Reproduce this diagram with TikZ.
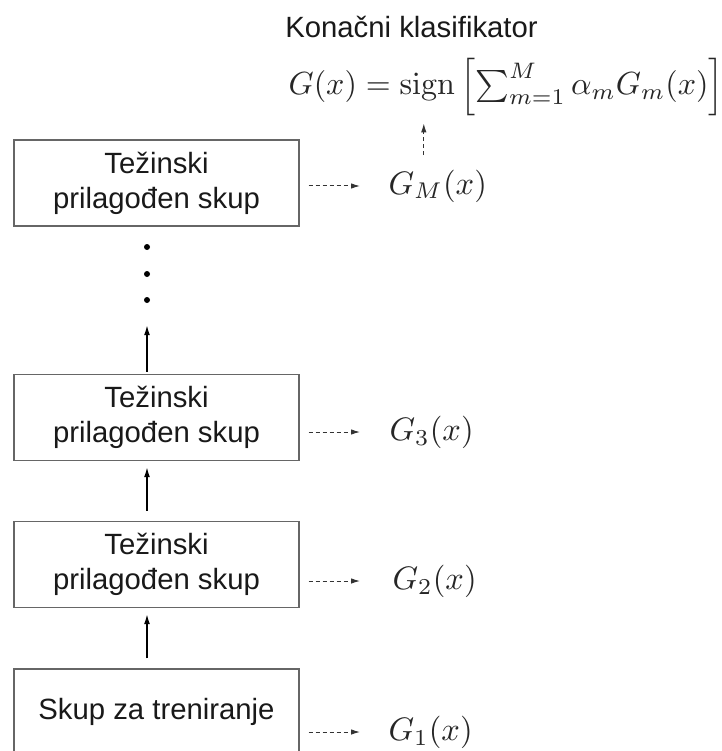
\documentclass[tikz,border=0pt]{standalone}
\usepackage{amsmath}
\usepackage[no-math]{fontspec}
\setmainfont{Liberation Sans}
\usetikzlibrary{arrows.meta}
\begin{document}
\begin{tikzpicture}[x=1pt,y=-1pt,
  box/.style={draw=black!60,line width=1.4pt,minimum width=285pt,minimum height=86pt,
    align=center,inner sep=0pt,font=\fontsize{29.3}{35}\selectfont,text=black!90},
  lbl/.style={anchor=west,inner sep=0pt,scale=3.25,text=black!85},
  solidarr/.style={line width=1.4pt,-{Latex[length=10pt,width=6pt]}},
  dasharr/.style={line width=1pt,draw=black!80,dash pattern=on 4pt off 3pt,-{Latex[length=9pt,width=5.5pt]}},
  dotn/.style={circle,fill=black,inner sep=0pt,minimum size=6pt}]
\useasboundingbox (0,0) rectangle (721,751);
\clip (0,0) rectangle (721,751);
% boxes
\node[box] (gmb) at (156.5,183) {Težinski\\prilagođen skup};
\node[box] (g3b) at (156.5,417.5) {Težinski\\prilagođen skup};
\node[box] (g2b) at (156.5,564.5) {Težinski\\prilagođen skup};
\node[box] (g1b) at (156.5,712) {Skup za treniranje};
% labels
\node[lbl] (gm) at (388,186) {$G_M(x)$};
\node[lbl] (g3) at (389,432) {$G_3(x)$};
\node[lbl] (g2) at (392,581) {$G_2(x)$};
\node[lbl] (g1) at (388,732) {$G_1(x)$};
% top
\node[anchor=center,inner sep=0pt,font=\fontsize{29.3}{35}\selectfont,text=black!90] (title) at (411.5,27) {Konačni klasifikator};
\node[lbl,scale=3.2/3.25] (formula) at (288,87)
  {$G(x) = \operatorname{sign}\left[\sum_{m=1}^{M} \alpha_m G_m(x)\right]$};
% dots
\node[dotn] (d1) at (147,247) {};
\node[dotn] (d2) at (147,274) {};
\node[dotn] (d3) at (147,300) {};
% vertical arrows
\draw[solidarr,shorten <=10pt,shorten >=6pt] ([xshift=-9.5pt]g1b.north) -- ([xshift=-9.5pt]g2b.south);
\draw[solidarr,shorten <=10pt,shorten >=6pt] ([xshift=-9.5pt]g2b.north) -- ([xshift=-9.5pt]g3b.south);
\draw[solidarr,shorten <=2pt,shorten >=22pt] ([xshift=-9.5pt]g3b.north) -- (d3);
% dashed arrows
\draw[dasharr,shorten <=9pt,shorten >=28pt] (gmb.east |- gm.west) -- (gm.west);
\draw[dasharr,shorten <=9pt,shorten >=29pt] (g3b.east |- g3.west) -- (g3.west);
\draw[dasharr,shorten <=9pt,shorten >=32pt] (g2b.east |- g2.west) -- (g2.west);
\draw[dasharr,shorten <=9pt,shorten >=28pt] (g1b.east |- g1.west) -- (g1.west);
\draw[dasharr,shorten <=14pt,shorten >=7pt] ([xshift=-14pt]gm.north) -- ([xshift=-14pt]gm.north |- formula.south);
\end{tikzpicture}
\end{document}
